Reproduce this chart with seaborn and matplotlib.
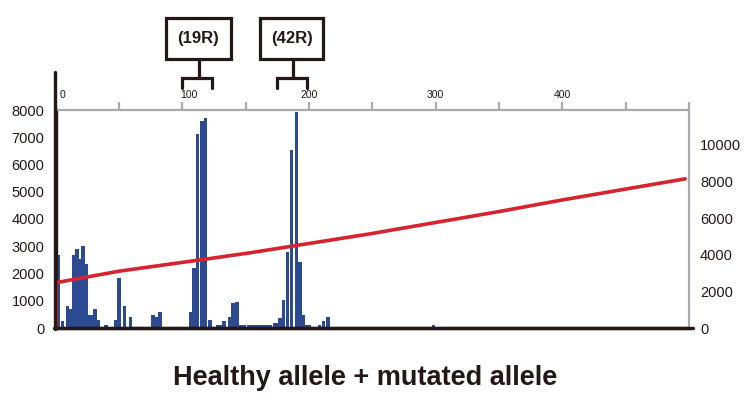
import numpy as np
import pandas as pd
import matplotlib
matplotlib.use("Agg")
import matplotlib.pyplot as plt
import seaborn as sns
from matplotlib.patches import Rectangle
from matplotlib.lines import Line2D
from matplotlib.transforms import ScaledTranslation

# ---------------- data ----------------
fragment_size = [2.5, 5.4, 9.6, 12.0, 14.3, 16.9, 19.3, 21.7, 24.3, 26.6, 28.9, 31.1, 33.7,
                 39.8, 47.3, 50.0, 54.5, 59.2, 76.8, 79.5, 82.3,
                 107.1, 109.4, 112.2, 115.7, 118.5, 121.7,
                 128.3, 130.8, 133.2, 137.4, 140.2, 143.3, 146.1, 148.9,
                 152.9, 155.6, 158.3, 161.0, 163.7, 166.4, 169.5, 172.8, 175.0, 177.3,
                 179.9, 183.1, 186.2, 190.2, 192.9, 195.3, 197.6, 200.0,
                 208.3, 211.4, 214.9, 298.3]
signal = [2680, 270, 800, 700, 2680, 2900, 2530, 3020, 2350, 470, 470, 700, 300,
          110, 290, 1830, 800, 400, 480, 400, 590,
          590, 2220, 7120, 7600, 7700, 280,
          120, 120, 270, 400, 920, 950, 110, 110,
          110, 110, 110, 110, 110, 110, 110, 190, 190, 370,
          1030, 2780, 6540, 7930, 2420, 490, 110, 110,
          110, 260, 390, 110]

curve_size = [0.5, 0.5, 50, 114, 153, 248, 300, 350, 400, 497]
curve_value = [0, 2475, 3100, 3716, 4098, 5137, 5760, 6355, 6990, 8142]

left_ticks = [0, 1000, 2000, 3000, 4000, 5000, 6000, 7000, 8000]
right_ticks = [0, 2000, 4000, 6000, 8000, 10000]
top_ticks = [0, 50, 100, 150, 200, 250, 300, 350, 400, 450, 500]
top_labels = ["0", "", "100", "", "200", "", "300", "", "400", "", ""]
peak_labels = ["(19R)", "(42R)"]
title = "Healthy allele + mutated allele"

# ---------------- style ----------------
sns.set_style("white")
plt.rcParams['font.family'] = ['Liberation Sans', 'DejaVu Sans']

INK = "#231815"
BLUE = "#2c4a92"
RED = "#d7232d"
GRAY = "#a9a9b1"

W, H = 756, 399
fig = plt.figure(figsize=(W / 100, H / 100), dpi=100)
fx = lambda px: px / W
fy = lambda py: 1 - py / H

ax = fig.add_axes([fx(55.5), fy(328), (689 - 55.5) / W, (328 - 110) / H])
ax2 = ax.twinx()

sns.barplot(x=fragment_size, y=signal, native_scale=True, orient="x", width=1.3,
            color=BLUE, saturation=1, linewidth=0, errorbar=None, ax=ax)
sns.lineplot(x=curve_size, y=curve_value, sort=False, estimator=None, color=RED,
             linewidth=2.6, ax=ax2)

ax.set_xlim(0, 500)
ax.set_ylim(0, 8000)
ax2.set_ylim(0, 11900)
ax.set_xlabel("")
ax.set_ylabel("")
ax2.set_ylabel("")

# left axis
ax.set_yticks(left_ticks)
ax.set_yticklabels([str(v) for v in left_ticks])
ax.tick_params(axis='y', left=True, length=0, pad=8, labelsize=10.5, labelcolor=INK)

# top axis
ax.xaxis.set_ticks_position('top')
ax.set_xticks(top_ticks)
ax.set_xticklabels(top_labels)
ax.tick_params(axis='x', top=True, bottom=False, direction='out', length=5.5, width=1.6,
               color=GRAY, pad=1.5, labelsize=7.5, labelcolor=INK)
shift = ScaledTranslation(7 / 100, 0, fig.dpi_scale_trans)
for i, lab in enumerate(ax.get_xticklabels()):
    if top_labels[i] in ("0", "100"):
        lab.set_transform(lab.get_transform() + shift)

# right axis
ax2.set_yticks(right_ticks)
ax2.set_yticklabels([str(v) for v in right_ticks])
ax2.tick_params(axis='y', right=True, length=0, pad=8, labelsize=10.5, labelcolor=INK)

for s in ['top', 'right', 'left', 'bottom']:
    ax2.spines[s].set_visible(False)
ax2.spines['right'].set_visible(True)
ax2.spines['right'].set_color(GRAY)
ax2.spines['right'].set_linewidth(1.6)
ax.spines['right'].set_visible(False)
ax.spines['top'].set_color(GRAY)
ax.spines['top'].set_linewidth(1.6)
ax.spines['left'].set_color(INK)
ax.spines['left'].set_linewidth(2.4)
ax.spines['bottom'].set_color(INK)
ax.spines['bottom'].set_linewidth(2.4)

# extended black spines
fig.add_artist(Line2D([fx(55), fx(55)], [fy(329), fy(72)], color=INK, lw=2.4,
                      transform=fig.transFigure))
fig.add_artist(Line2D([fx(54), fx(693)], [fy(328), fy(328)], color=INK, lw=2.4,
                      transform=fig.transFigure))

# peak annotations
boxes = [(166, 231, 198.5, 182, 212), (260, 323, 292.5, 277, 307)]
for lab, (x0, x1, xc, b0, b1) in zip(peak_labels, boxes):
    fig.add_artist(Rectangle((fx(x0), fy(59)), (x1 - x0) / W, (59 - 18) / H, fill=False,
                             ec=INK, lw=2.3, transform=fig.transFigure))
    fig.text(fx((x0 + x1) / 2), fy(39), lab, ha='center', va='center', fontsize=12,
             fontweight='bold', color=INK)
    fig.add_artist(Line2D([fx(xc), fx(xc)], [fy(60), fy(78)], color=INK, lw=2.3,
                          transform=fig.transFigure))
    fig.add_artist(Line2D([fx(b0), fx(b0), fx(b1), fx(b1)], [fy(88), fy(78), fy(78), fy(88)],
                          color=INK, lw=2.3, transform=fig.transFigure,
                          solid_joinstyle='miter'))

fig.text(fx(365), fy(378), title, ha='center', va='center', fontsize=19.5,
         fontweight='bold', color=INK)

fig.savefig("out.png", dpi=100, facecolor="white")
